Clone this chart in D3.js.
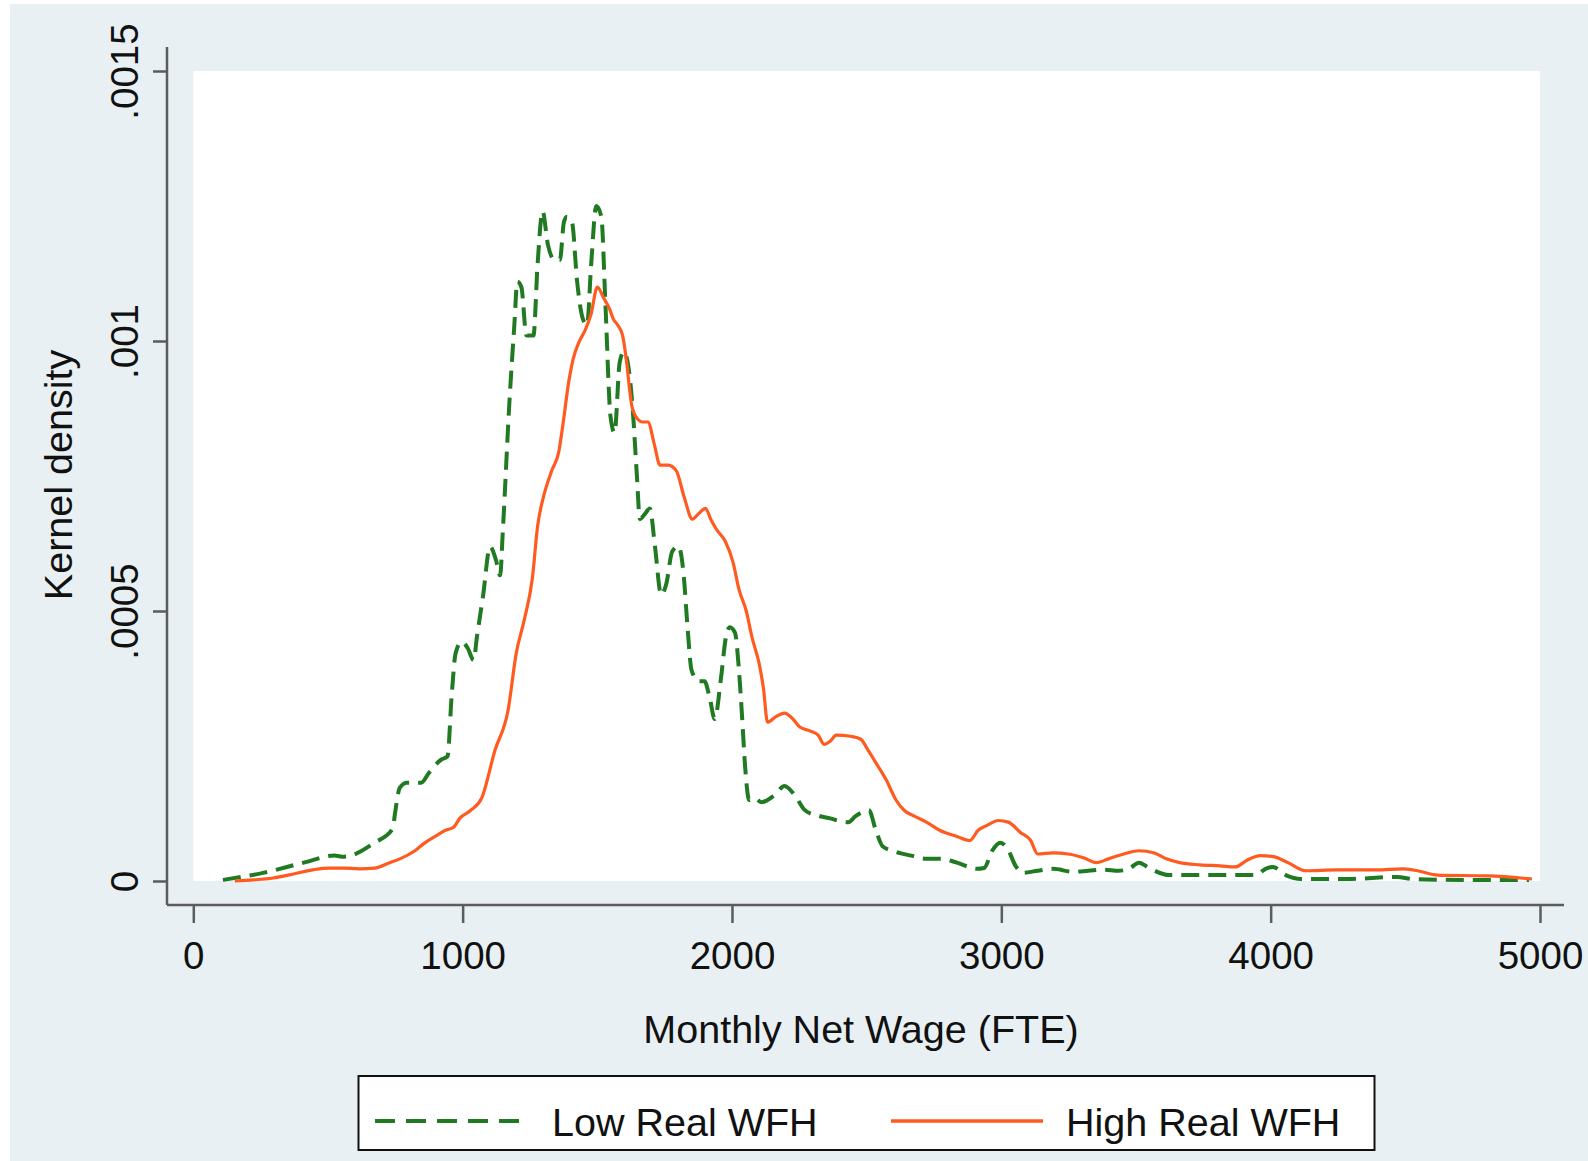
<!DOCTYPE html>
<html>
<head>
<meta charset="utf-8">
<script src="https://cdn.jsdelivr.net/npm/d3@7"></script>
<style>
  body { margin: 0; background: #fff; }
  text { font-family: "Liberation Sans", Arial, sans-serif; }
</style>
</head>
<body>
<script>
const width = 1588;
const height = 1161;

// wage, density pairs
const lowWage = [110, 259, 410, 523, 560, 673, 741, 748, 767, 793, 846, 876, 921, 944, 959, 974, 996, 1019, 1041, 1053, 1075, 1102, 1124, 1139, 1150, 1173, 1192, 1203, 1218, 1237, 1263, 1278, 1297, 1316, 1342, 1361, 1376, 1387, 1406, 1425, 1447, 1462, 1477, 1496, 1515, 1530, 1549, 1564, 1583, 1598, 1613, 1632, 1647, 1658, 1677, 1695, 1714, 1737, 1756, 1778, 1801, 1820, 1835, 1850, 1876, 1898, 1917, 1936, 1959, 1977, 1992, 2011, 2026, 2038, 2049, 2064, 2083, 2109, 2158, 2195, 2233, 2271, 2327, 2365, 2402, 2432, 2459, 2508, 2534, 2560, 2609, 2665, 2722, 2778, 2835, 2910, 2936, 2966, 2996, 3023, 3053, 3079, 3135, 3192, 3267, 3323, 3380, 3436, 3474, 3511, 3549, 3624, 3793, 3944, 3981, 4008, 4056, 4113, 4282, 4470, 4526, 4733, 4959];
const lowDens = [0.000002, 0.000015, 0.000034, 0.000047, 0.000045, 0.000071, 0.0000975, 0.000122, 0.000173, 0.000182, 0.000182, 0.000201, 0.000225, 0.000231, 0.000341, 0.000422, 0.000443, 0.000431, 0.000409, 0.000452, 0.000525, 0.000619, 0.000594, 0.000566, 0.000656, 0.000881, 0.00103, 0.00111, 0.0011, 0.00101, 0.00101, 0.00114, 0.00124, 0.00118, 0.00115, 0.00115, 0.00122, 0.00123, 0.00122, 0.00111, 0.00104, 0.00103, 0.00114, 0.00125, 0.00123, 0.00107, 0.00086, 0.00083, 0.00096, 0.00098, 0.00096, 0.00087, 0.00075, 0.00067, 0.00068, 0.00069, 0.00062, 0.00053, 0.00055, 0.00061, 0.00062, 0.00057, 0.00047, 0.00039, 0.00037, 0.00037, 0.00034, 0.0003, 0.000375, 0.00045, 0.00047, 0.00046, 0.00039, 0.0003, 0.00021, 0.00015, 0.000154, 0.000146, 0.000159, 0.000176, 0.000159, 0.000131, 0.00012, 0.000116, 0.000111, 0.000109, 0.00012, 0.000131, 0.000094, 0.000064, 0.000054, 0.000047, 0.000041, 0.000041, 0.000034, 0.0000225, 0.000024, 0.000056, 0.000071, 0.00006, 0.000028, 0.000015, 0.000019, 0.0000225, 0.000017, 0.000019, 0.000021, 0.000019, 0.0000225, 0.000034, 0.000024, 0.000011, 0.000011, 0.000011, 0.0000225, 0.000026, 0.000011, 0.0000037, 0.0000037, 0.0000075, 0.0000037, 0.0000019, 0.0000019];

const highWage = [154, 222, 297, 372, 447, 504, 560, 617, 673, 729, 767, 823, 861, 898, 936, 966, 989, 1030, 1071, 1120, 1169, 1199, 1229, 1259, 1278, 1301, 1331, 1357, 1372, 1395, 1410, 1432, 1455, 1477, 1500, 1523, 1545, 1560, 1575, 1594, 1609, 1620, 1628, 1643, 1669, 1688, 1711, 1733, 1763, 1793, 1823, 1853, 1876, 1902, 1921, 1944, 1974, 2004, 2026, 2053, 2075, 2102, 2117, 2132, 2162, 2195, 2226, 2252, 2289, 2320, 2342, 2365, 2387, 2440, 2477, 2508, 2538, 2572, 2609, 2639, 2677, 2722, 2771, 2835, 2883, 2914, 2947, 2989, 3026, 3071, 3109, 3135, 3192, 3248, 3305, 3353, 3398, 3455, 3511, 3568, 3613, 3662, 3737, 3812, 3868, 3914, 3962, 4011, 4064, 4132, 4244, 4395, 4489, 4545, 4620, 4808, 4970];
const highDens = [0, 0.000002, 0.0000056, 0.000013, 0.000021, 0.000024, 0.000024, 0.0000225, 0.000024, 0.000034, 0.000041, 0.000056, 0.000071, 0.0000825, 0.000094, 0.0000994, 0.000116, 0.000131, 0.000154, 0.000242, 0.000317, 0.000422, 0.000484, 0.000561, 0.000656, 0.000713, 0.00076, 0.000795, 0.000844, 0.000928, 0.000966, 0.000998, 0.00102, 0.00105, 0.0011, 0.00108, 0.00106, 0.00104, 0.00103, 0.00101, 0.00096, 0.00091, 0.00088, 0.00086, 0.00085, 0.00085, 0.00081, 0.00077, 0.00077, 0.00076, 0.00071, 0.00067, 0.00068, 0.00069, 0.00067, 0.00065, 0.00063, 0.00059, 0.00054, 0.0005, 0.00045, 0.0004, 0.000356, 0.000294, 0.000304, 0.000311, 0.0003, 0.000285, 0.000278, 0.00027, 0.000253, 0.000259, 0.00027, 0.000268, 0.000263, 0.00024, 0.000216, 0.000188, 0.00015, 0.000131, 0.00012, 0.000109, 0.000094, 0.0000825, 0.000075, 0.000094, 0.000103, 0.000112, 0.000109, 0.00009, 0.000075, 0.00005, 0.000052, 0.00005, 0.000043, 0.000034, 0.000041, 0.00005, 0.000056, 0.000052, 0.000041, 0.000034, 0.00003, 0.000028, 0.000026, 0.000039, 0.000047, 0.000045, 0.000034, 0.000019, 0.0000205, 0.0000205, 0.0000225, 0.000019, 0.000011, 0.0000094, 0.0000037];

const xTicks = [0, 1000, 2000, 3000, 4000, 5000];
const yTicks = [0, 0.0005, 0.001, 0.0015];
const yTickLabels = ["0", ".0005", ".001", ".0015"];
const seriesNames = ["Low Real WFH", "High Real WFH"];

const GREEN = "#1f7a22";
const ORANGE = "#ff5a1f";
const AXIS = "#5c5c5c";
const BG = "#e8f0f3";

const svg = d3.select("body")
	.append("svg")
	.attr("width", width)
	.attr("height", height);

// graph region
svg.append("rect")
	.attr("x", 10).attr("y", 4)
	.attr("width", width - 10).attr("height", height - 4)
	.attr("fill", BG);

const x = d3.scaleLinear().domain([0, 5000]).range([193.3, 1540]);
const y = d3.scaleLinear().domain([0, 0.0015]).range([881, 71]);

// plot region
svg.append("rect")
	.attr("x", x(0)).attr("y", y(0.0015))
	.attr("width", x(5000) - x(0)).attr("height", y(0) - y(0.0015))
	.attr("fill", "white");

// axes
const axisY = 905, axisX = 167;
svg.append("line")
	.attr("x1", axisX).attr("x2", axisX).attr("y1", 47).attr("y2", axisY)
	.attr("stroke", AXIS).attr("stroke-width", 2.5);
svg.append("line")
	.attr("x1", axisX).attr("x2", 1564).attr("y1", axisY).attr("y2", axisY)
	.attr("stroke", AXIS).attr("stroke-width", 2.5);

const xAxis = svg.append("g")
	.attr("transform", "translate(0," + axisY + ")")
	.call(d3.axisBottom(x).tickValues(xTicks).tickSize(18).tickFormat(d3.format("d")));
xAxis.select(".domain").remove();
xAxis.selectAll(".tick line").attr("stroke", AXIS).attr("stroke-width", 2.5);
xAxis.selectAll(".tick text")
	.attr("y", 64).attr("dy", null)
	.attr("font-size", "38.5px")
	.attr("font-family", "Liberation Sans, Arial, sans-serif")
	.attr("fill", "#111");

const yAxis = svg.append("g")
	.attr("transform", "translate(" + axisX + ",0)")
	.call(d3.axisLeft(y).tickValues(yTicks).tickSize(14).tickFormat(function (d, i) { return yTickLabels[i]; }));
yAxis.select(".domain").remove();
yAxis.selectAll(".tick line").attr("stroke", AXIS).attr("stroke-width", 2.5);
yAxis.selectAll(".tick text")
	.attr("x", null).attr("dy", null)
	.attr("text-anchor", "middle")
	.attr("transform", "translate(-29,0) rotate(-90)")
	.attr("font-size", "38.5px")
	.attr("font-family", "Liberation Sans, Arial, sans-serif")
	.attr("fill", "#111");

// axis titles
svg.append("text")
	.attr("x", 861).attr("y", 1043)
	.attr("text-anchor", "middle")
	.attr("font-size", "39.5px")
	.attr("fill", "#111")
	.text("Monthly Net Wage (FTE)");

svg.append("text")
	.attr("transform", "translate(72,475) rotate(-90)")
	.attr("text-anchor", "middle")
	.attr("font-size", "39.5px")
	.attr("fill", "#111")
	.text("Kernel density");

// curves
const lineGen = d3.line()
	.x(function (d) { return x(d[0]); })
	.y(function (d) { return y(d[1]); })
	.curve(d3.curveMonotoneX);

const lowData = lowWage.map(function (w, i) { return [w, lowDens[i]]; });
const highData = highWage.map(function (w, i) { return [w, highDens[i]]; });

svg.append("path")
	.attr("d", lineGen(lowData))
	.attr("fill", "none")
	.attr("stroke", GREEN)
	.attr("stroke-width", 4)
	.attr("stroke-dasharray", "18,9");

svg.append("path")
	.attr("d", lineGen(highData))
	.attr("fill", "none")
	.attr("stroke", ORANGE)
	.attr("stroke-width", 3.2)
	.attr("stroke-linejoin", "round");

// legend
const legend = svg.append("g");
legend.append("rect")
	.attr("x", 358.5).attr("y", 1076)
	.attr("width", 1016).attr("height", 74)
	.attr("fill", "white")
	.attr("stroke", "#111")
	.attr("stroke-width", 2);

legend.append("line")
	.attr("x1", 375).attr("x2", 527).attr("y1", 1121).attr("y2", 1121)
	.attr("stroke", GREEN).attr("stroke-width", 4)
	.attr("stroke-dasharray", "20,11");
legend.append("text")
	.attr("x", 552).attr("y", 1136)
	.attr("font-size", "39.5px").attr("fill", "#111")
	.text(seriesNames[0]);

legend.append("line")
	.attr("x1", 891).attr("x2", 1043).attr("y1", 1121).attr("y2", 1121)
	.attr("stroke", ORANGE).attr("stroke-width", 3.5);
legend.append("text")
	.attr("x", 1066).attr("y", 1136)
	.attr("font-size", "39.5px").attr("fill", "#111")
	.text(seriesNames[1]);
</script>
</body>
</html>
